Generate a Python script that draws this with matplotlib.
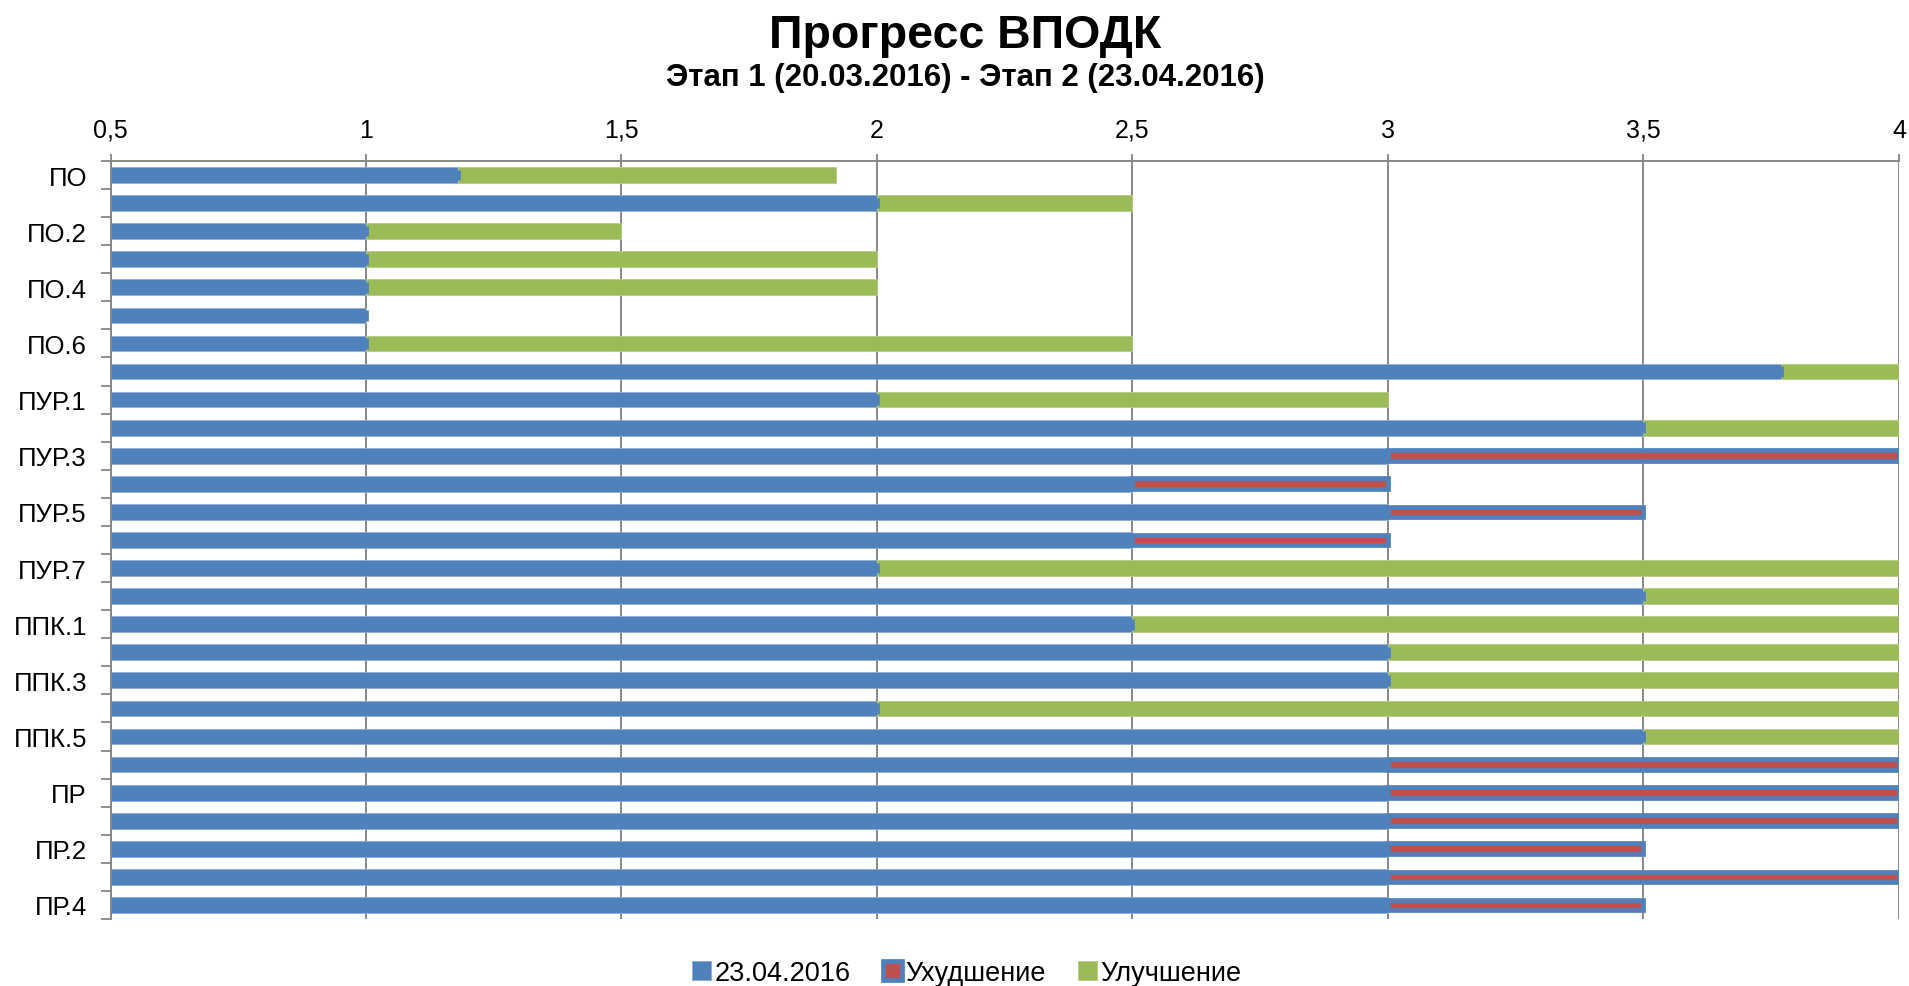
import numpy as np
import matplotlib
matplotlib.use("Agg")
import matplotlib.pyplot as plt
from matplotlib.ticker import FuncFormatter, FixedLocator

plt.rcParams['font.family'] = ['Liberation Sans', 'DejaVu Sans']

# данные: базовое значение, ухудшение, улучшение
labels = ["ПО", "ПО.1", "ПО.2", "ПО.3", "ПО.4", "ПО.5", "ПО.6", "ПО.7",
          "ПУР.1", "ПУР.2", "ПУР.3", "ПУР.4", "ПУР.5", "ПУР.6", "ПУР.7", "ПУР.8",
          "ППК.1", "ППК.2", "ППК.3", "ППК.4", "ППК.5", "ППК.6",
          "ПР", "ПР.1", "ПР.2", "ПР.3", "ПР.4"]
base = [1.18, 2, 1, 1, 1, 1, 1, 3.77,
        2, 3.5, 3, 2.5, 3, 2.5, 2, 3.5,
        2.5, 3, 3, 2, 3.5, 3,
        3, 3, 3, 3, 3]
worse = [0, 0, 0, 0, 0, 0, 0, 0,
         0, 0, 1, 0.5, 0.5, 0.5, 0, 0,
         0, 0, 0, 0, 0, 1,
         1, 1, 0.5, 1, 0.5]
better = [0.74, 0.5, 0.5, 1, 1, 0, 1.5, 0.23,
          1, 0.5, 0, 0, 0, 0, 2, 0.5,
          1.5, 1, 1, 2, 0.5, 0,
          0, 0, 0, 0, 0]
xticks = [0.5, 1, 1.5, 2, 2.5, 3, 3.5, 4]

blue = '#4F81BD'
red = '#C0504D'
green = '#9BBB59'
grid_c = '#878787'

base = np.array(base)
worse = np.array(worse)
better = np.array(better)
y = np.arange(len(labels))

fig = plt.figure(figsize=(19.09, 9.87), dpi=100)
ax = fig.add_axes([0.0579, 0.0679, 0.9368, 0.768])

ax.barh(y, base, height=0.56, color=blue, edgecolor='#8faed6', linewidth=0.6,
        label='23.04.2016', zorder=2)
ax.barh(y, worse, left=base, height=0.38, color=red, edgecolor=blue,
        linewidth=3.4, label='Ухудшение', zorder=3)
ax.barh(y, better, left=base + worse, height=0.56, color=green,
        edgecolor='#b5cd86', linewidth=0.6, label='Улучшение', zorder=2)

ax.set_xlim(0.5, 4)
ax.set_ylim(len(labels) - 0.5, -0.5)

# ось X сверху
ax.xaxis.tick_top()
ax.set_xticks(xticks)
ax.xaxis.set_major_formatter(FuncFormatter(lambda v, p: ('%g' % v).replace('.', ',')))
ax.tick_params(axis='x', which='major', length=5, width=1.3, color=grid_c,
               labelsize=18, pad=9)
ax.grid(axis='x', color=grid_c, linewidth=1.4, zorder=0)
ax.set_axisbelow(True)

# ось Y: подписи через одну, засечки между категориями
ax.set_yticks(y[::2])
ax.set_yticklabels(labels[::2])
ax.yaxis.set_minor_locator(FixedLocator(np.arange(-0.5, len(labels), 1)))
ax.tick_params(axis='y', which='major', length=0, labelsize=18.5, pad=17)
ax.tick_params(axis='y', which='minor', length=7, width=1.3, color=grid_c)

for s in ['right', 'bottom']:
    ax.spines[s].set_visible(False)
for s in ['left', 'top']:
    ax.spines[s].set_color(grid_c)
    ax.spines[s].set_linewidth(1.4)

fig.text(0.5055, 1 - 48 / 987, 'Прогресс ВПОДК', ha='center', va='baseline',
         fontsize=33.5, fontweight='bold')
fig.text(0.5055, 1 - 86 / 987, 'Этап 1 (20.03.2016) - Этап 2 (23.04.2016)',
         ha='center', va='baseline', fontsize=22.5, fontweight='bold')

fig.legend(loc='center', bbox_to_anchor=(967 / 1909, 1 - 974 / 987), ncol=3,
           frameon=False, fontsize=19.5, handlelength=0.7, handleheight=0.7,
           handletextpad=0.12, columnspacing=1.2)

plt.savefig('out.png', dpi=100)
